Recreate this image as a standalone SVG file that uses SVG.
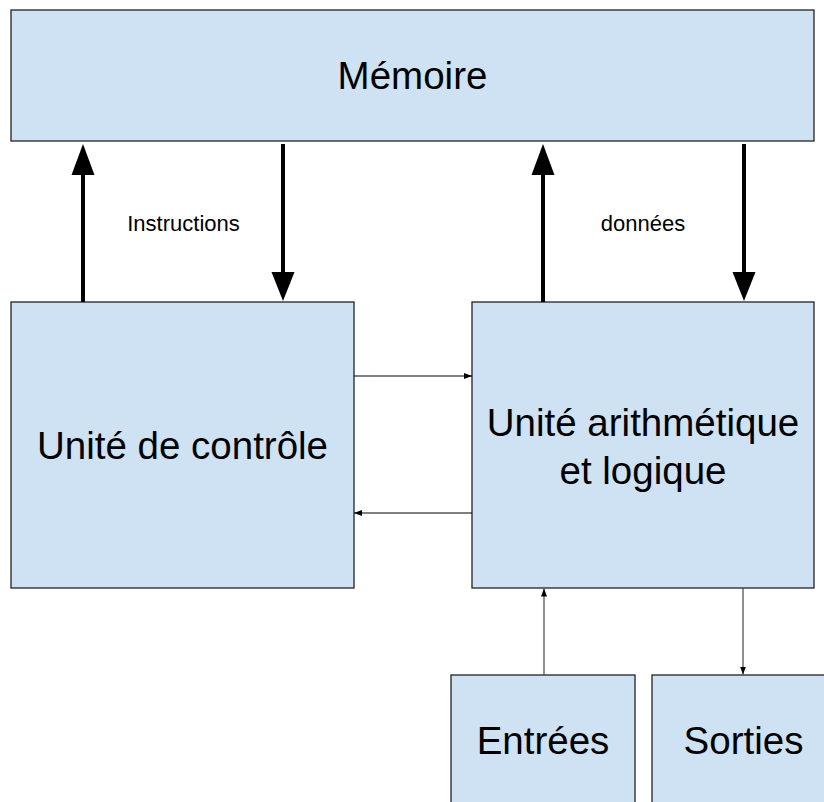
<svg xmlns="http://www.w3.org/2000/svg" width="824" height="802" viewBox="0 0 824 802">
<defs>
<style>
.box{fill:#cfe2f3;stroke:#222;stroke-width:1.3}
.big{font-family:"Liberation Sans",Arial,sans-serif;font-size:38.5px;fill:#000;text-anchor:middle}
.lbl{font-family:"Liberation Sans",Arial,sans-serif;font-size:22px;fill:#000;text-anchor:middle}
.thick{stroke:#000;stroke-width:4;fill:none}
.head{fill:#000}
.thin{stroke:#000;stroke-width:1.2;fill:none}
.thin2{stroke:#444;stroke-width:1.2;fill:none}
</style>
<marker id="small" viewBox="0 0 8 6" refX="8" refY="3" markerWidth="8" markerHeight="6" markerUnits="userSpaceOnUse" orient="auto">
<path d="M0,0 L8,3 L0,6 Z" fill="#000"/>
</marker>
</defs>
<rect width="824" height="802" fill="#fff"/>
<g id="memoire">
<rect class="box" x="11" y="10" width="803" height="131"/>
<text class="big" x="412.5" y="89">Mémoire</text>
</g>
<g id="controle">
<rect class="box" x="11" y="302" width="343" height="286"/>
<text class="big" x="182.5" y="459">Unité de contrôle</text>
</g>
<g id="ual">
<rect class="box" x="472" y="302" width="342" height="286"/>
<text class="big" x="643" y="436">Unité arithmétique</text>
<text class="big" x="643" y="484">et logique</text>
</g>
<g id="entrees">
<rect class="box" x="451" y="675" width="184" height="140"/>
<text class="big" x="543" y="754">Entrées</text>
</g>
<g id="sorties">
<rect class="box" x="652" y="675" width="183" height="140"/>
<text class="big" x="743.5" y="754">Sorties</text>
</g>
<g id="connectors">
<line class="thick" x1="83" y1="302" x2="83" y2="172"/>
<polygon class="head" points="83,144 71.5,175 94.5,175"/>
<line class="thick" x1="283" y1="144" x2="283" y2="274"/>
<polygon class="head" points="283,301 271.5,272 294.5,272"/>
<line class="thick" x1="543" y1="302" x2="543" y2="172"/>
<polygon class="head" points="543,144 531.5,175 554.5,175"/>
<line class="thick" x1="744" y1="144" x2="744" y2="274"/>
<polygon class="head" points="744,301 732.5,272 755.5,272"/>
<line class="thin" x1="354" y1="376" x2="472" y2="376" marker-end="url(#small)"/>
<line class="thin" x1="472" y1="513" x2="354" y2="513" marker-end="url(#small)"/>
<line class="thin2" x1="544" y1="675" x2="544" y2="588.5" marker-end="url(#small)"/>
<line class="thin2" x1="743" y1="588" x2="743" y2="674.5" marker-end="url(#small)"/>
<text class="lbl" x="183.5" y="230.5">Instructions</text>
<text class="lbl" x="643" y="230.5">données</text>
</g>
</svg>
